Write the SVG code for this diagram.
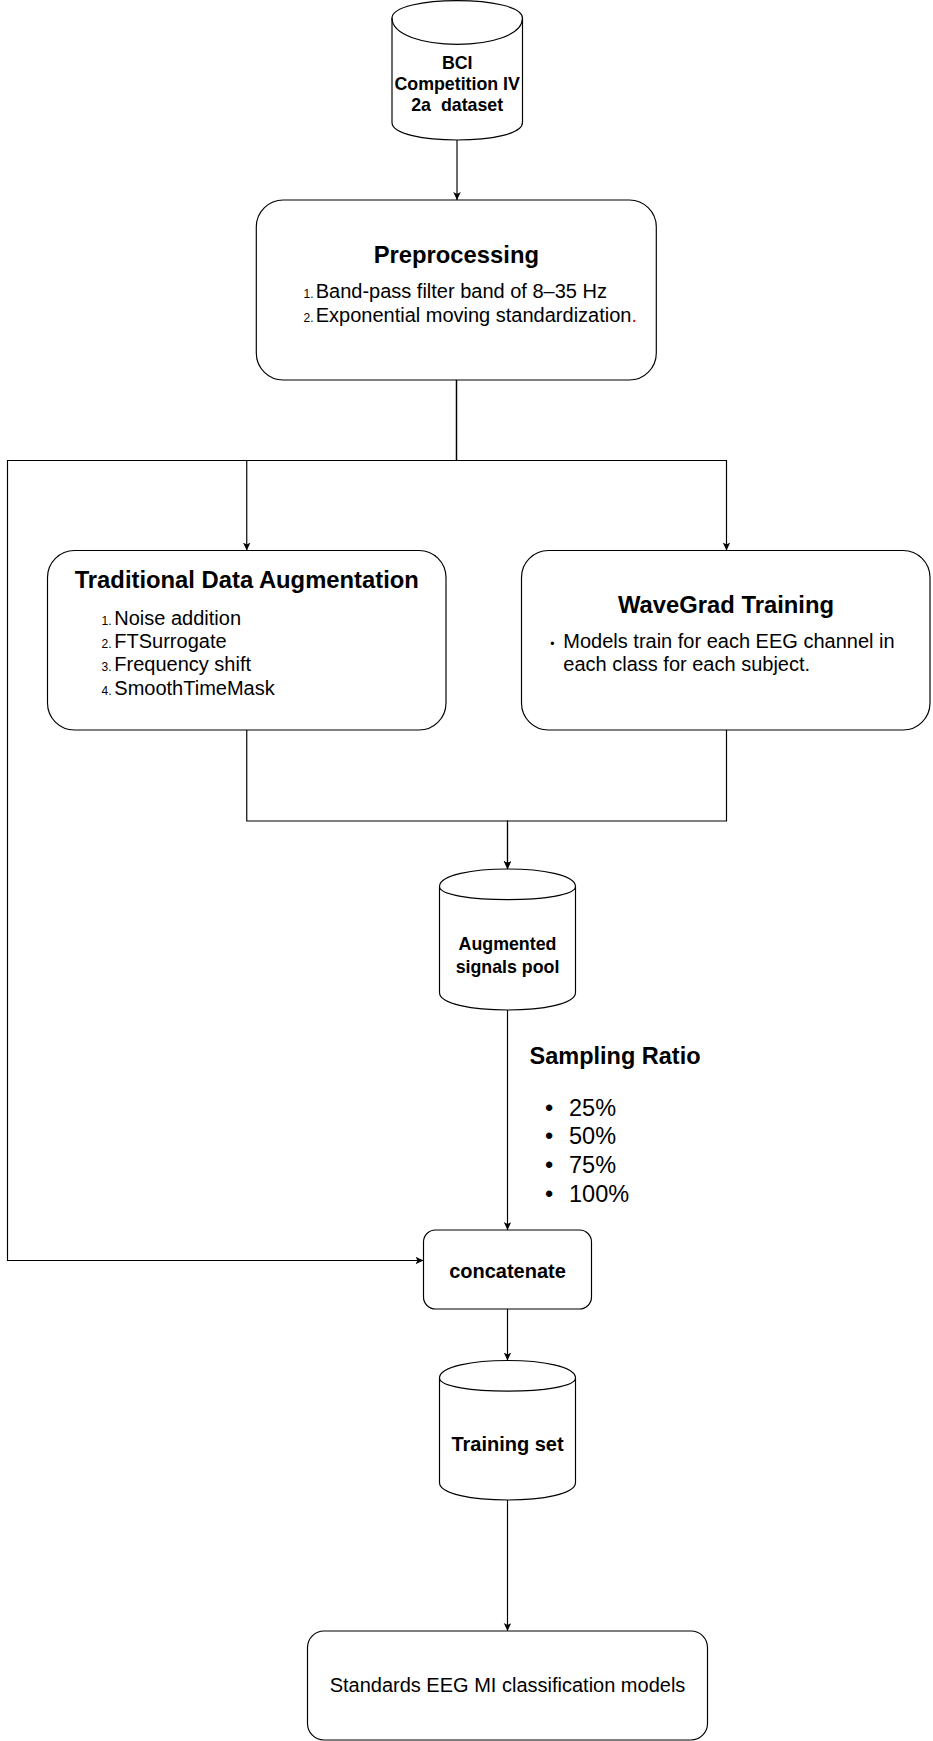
<svg xmlns="http://www.w3.org/2000/svg" width="933" height="1741" viewBox="0 0 933 1741">
<defs>
<marker id="arr" markerUnits="userSpaceOnUse" markerWidth="9" markerHeight="8" refX="8" refY="3.75" orient="auto">
<path d="M0,0 L8,3.75 L0,7.5 L2,3.75 Z" fill="#000"/>
</marker>
<style>
.shape{fill:#fff;stroke:#000;stroke-width:1.17}
.edge{fill:none;stroke:#000;stroke-width:1.17}
text{font-family:"Liberation Sans",Arial,Helvetica,sans-serif;fill:#000}
.title{font-size:23.8px;font-weight:bold;text-anchor:middle}
.cyl{font-size:17.8px;font-weight:bold;text-anchor:middle}
.item{font-size:20px}
.mark{font-size:12px;text-anchor:end}
.big{font-size:23.5px}
</style>
</defs>
<rect width="933" height="1741" fill="#fff"/>

<g id="connectors">
<path class="edge" d="M457,140 V200" marker-end="url(#arr)"/>
<path class="edge" d="M456.5,380 V460.5 H246.75 V550.5" marker-end="url(#arr)"/>
<path class="edge" d="M456.5,380 V460.5 H726.5 V550.5" marker-end="url(#arr)"/>
<path class="edge" d="M456.5,380 V460.5 H7.5 V1260.5 H423.5" marker-end="url(#arr)"/>
<path class="edge" d="M246.75,730 V821 H507.5 V869" marker-end="url(#arr)"/>
<path class="edge" d="M726.5,730 V821 H507.5 V869" marker-end="url(#arr)"/>
<path class="edge" d="M507.5,1010 V1230" marker-end="url(#arr)"/>
<path class="edge" d="M507.5,1309 V1360.5" marker-end="url(#arr)"/>
<path class="edge" d="M507.5,1500 V1631" marker-end="url(#arr)"/>
</g>

<g id="bci">
<path class="shape" d="M392,18.1 C392,-5.23 522.5,-5.23 522.5,18.1 L522.5,122.5 C522.5,145.83 392,145.83 392,122.5 Z"/>
<path class="edge" d="M392,18.1 C392,53.1 522.5,53.1 522.5,18.1"/>
<text class="cyl" x="457.2" y="68.5">BCI</text>
<text class="cyl" x="457.2" y="89.5">Competition IV</text>
<text class="cyl" x="457.2" y="110.5" xml:space="preserve">2a  dataset</text>
</g>

<g id="preprocessing">
<rect class="shape" x="256.3" y="200" width="400" height="180" rx="27" ry="27"/>
<text class="title" x="456.3" y="263">Preprocessing</text>
<text class="mark" x="313.5" y="298.3">1.</text>
<text class="item" x="315.7" y="298.3">Band-pass filter band of 8–35 Hz</text>
<text class="mark" x="313.5" y="321.7">2.</text>
<text class="item" x="315.7" y="321.7">Exponential moving standardization<tspan fill="#e00000">.</tspan></text>
</g>

<g id="tda">
<rect class="shape" x="47.5" y="550.5" width="398.5" height="179.5" rx="27" ry="27"/>
<text class="title" x="246.75" y="588">Traditional Data Augmentation</text>
<text class="mark" x="111.5" y="625">1.</text>
<text class="item" x="114.3" y="625">Noise addition</text>
<text class="mark" x="111.5" y="648.3">2.</text>
<text class="item" x="114.3" y="648.3">FTSurrogate</text>
<text class="mark" x="111.5" y="671.3">3.</text>
<text class="item" x="114.3" y="671.3">Frequency shift</text>
<text class="mark" x="111.5" y="694.5">4.</text>
<text class="item" x="114.3" y="694.5">SmoothTimeMask</text>
</g>

<g id="wavegrad">
<rect class="shape" x="521.5" y="550.5" width="408.5" height="179.5" rx="27" ry="27"/>
<text class="title" x="726" y="612.7">WaveGrad Training</text>
<text class="mark" x="554.5" y="648.3">•</text>
<text class="item" x="563.3" y="648.3">Models train for each EEG channel in</text>
<text class="item" x="563.3" y="671.3">each class for each subject.</text>
</g>

<g id="augmented">
<path class="shape" d="M439.5,886.5 C439.5,863.17 575.5,863.17 575.5,886.5 L575.5,992.5 C575.5,1015.83 439.5,1015.83 439.5,992.5 Z"/>
<path class="edge" d="M439.5,886.5 C439.5,904 575.5,904 575.5,886.5"/>
<text class="cyl" x="507.5" y="949.5">Augmented</text>
<text class="cyl" x="507.5" y="972.5">signals pool</text>
</g>

<g id="sampling">
<text class="big" font-weight="bold" x="529.5" y="1063.5">Sampling Ratio</text>
<text class="big" x="545" y="1115.5">•</text>
<text class="big" x="569" y="1115.5">25%</text>
<text class="big" x="545" y="1144">•</text>
<text class="big" x="569" y="1144">50%</text>
<text class="big" x="545" y="1172.5">•</text>
<text class="big" x="569" y="1172.5">75%</text>
<text class="big" x="545" y="1201.5">•</text>
<text class="big" x="569" y="1201.5">100%</text>
</g>

<g id="concatenate">
<rect class="shape" x="423.5" y="1230" width="168" height="79" rx="12" ry="12"/>
<text class="title" style="font-size:20px" x="507.5" y="1277.9">concatenate</text>
</g>

<g id="training">
<path class="shape" d="M439.5,1378 C439.5,1354.67 575.5,1354.67 575.5,1378 L575.5,1482.5 C575.5,1505.83 439.5,1505.83 439.5,1482.5 Z"/>
<path class="edge" d="M439.5,1378 C439.5,1395.5 575.5,1395.5 575.5,1378"/>
<text class="title" style="font-size:20px" x="507.5" y="1450.5">Training set</text>
</g>

<g id="models">
<rect class="shape" x="307.5" y="1631" width="400" height="109" rx="16.5" ry="16.5"/>
<text class="item" text-anchor="middle" x="507.5" y="1692">Standards EEG MI classification models</text>
</g>
</svg>
